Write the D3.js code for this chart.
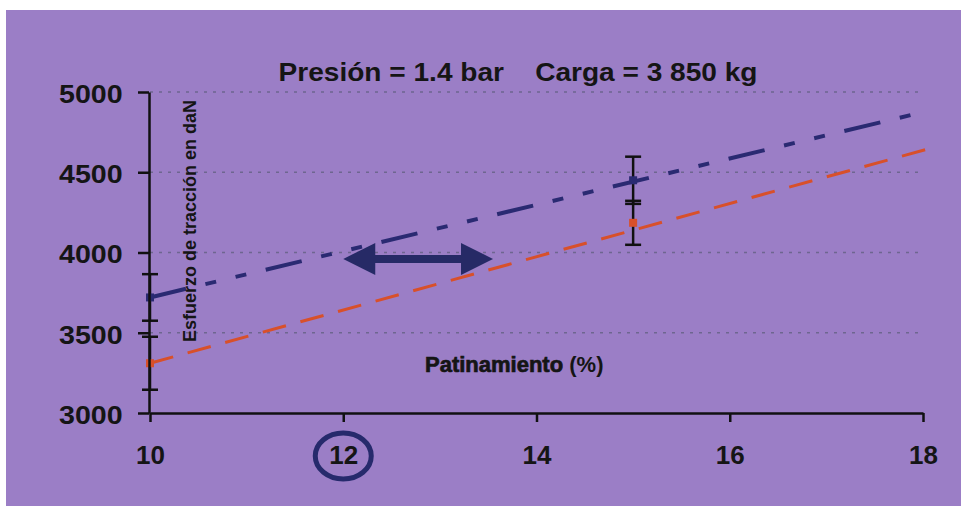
<!DOCTYPE html>
<html>
<head>
<meta charset="utf-8">
<script src="https://cdn.jsdelivr.net/npm/d3@7"></script>
<style>
  body { margin: 0; background: #fff; }
  svg text { font-family: "Liberation Sans", Arial, sans-serif; fill: #151515; }
</style>
</head>
<body>
<svg id="chart" width="961" height="506"></svg>
<script>
// datos
const xTicks = [10, 12, 14, 16, 18];
const yTicks = [3000, 3500, 4000, 4500, 5000];
const gridValues = [3500, 4000, 4500, 5000];

// puntos medidos (patinamiento, esfuerzo) con su error
const bluePointsX = [10, 15];
const bluePointsY = [3720, 4450];
const blueErr = [145, 147];
const redPointsX = [10, 15];
const redPointsY = [3310, 4185];
const redErr = [165, 137];

// rectas de tendencia
const blueTrendX = [10, 17.9];
const blueTrendY = [3720, 4860];
const redTrendX = [10, 18.05];
const redTrendY = [3310, 4645];

// flecha doble y valor marcado
const arrowX = [12, 13.55];
const arrowY = 3960;
const markedTick = 12;

const titleText = "Presión = 1.4 bar    Carga = 3 850 kg";
const yTitle = "Esfuerzo de tracción en daN";

const svg = d3.select("#chart");

// fondo morado
svg.append("rect")
    .attr("x", 6).attr("y", 10)
    .attr("width", 955).attr("height", 496)
    .attr("fill", "#9b7ec6");

const x = d3.scaleLinear().domain([10, 18]).range([150, 923]);
const y = d3.scaleLinear().domain([3000, 5000]).range([413, 92]);

// líneas de cuadrícula punteadas
svg.append("g").selectAll("line")
    .data(gridValues)
    .enter()
    .append("line")
    .attr("x1", x(10)).attr("x2", 920)
    .attr("y1", d => y(d)).attr("y2", d => y(d))
    .attr("stroke", "#6e6690")
    .attr("stroke-width", 1.6)
    .attr("stroke-dasharray", "3,6");

// rectas de tendencia
const line = d3.line().x(d => x(d[0])).y(d => y(d[1]));

svg.append("path")
    .datum(d3.zip(blueTrendX, blueTrendY))
    .attr("d", line)
    .attr("fill", "none")
    .attr("stroke", "#2a2a72")
    .attr("stroke-width", 4)
    .attr("stroke-dasharray", "37,20,11,20,11,20");

svg.append("path")
    .datum(d3.zip(redTrendX, redTrendY))
    .attr("d", line)
    .attr("fill", "none")
    .attr("stroke", "#d8502a")
    .attr("stroke-width", 3)
    .attr("stroke-dasharray", "24,15");

// barras de error
function errorBars(xs, ys, es) {
    const g = svg.append("g").attr("stroke", "#111").attr("stroke-width", 2.5);
    xs.forEach((xv, i) => {
        const cx = x(xv);
        const top = y(ys[i] + es[i]), bot = y(ys[i] - es[i]);
        g.append("line").attr("x1", cx).attr("x2", cx).attr("y1", top).attr("y2", bot);
        g.append("line").attr("x1", cx - 8).attr("x2", cx + 8).attr("y1", top).attr("y2", top);
        g.append("line").attr("x1", cx - 8).attr("x2", cx + 8).attr("y1", bot).attr("y2", bot);
    });
}
errorBars(bluePointsX, bluePointsY, blueErr);
errorBars(redPointsX, redPointsY, redErr);

// marcadores
svg.append("g").selectAll("rect")
    .data(d3.zip(bluePointsX, bluePointsY))
    .enter()
    .append("rect")
    .attr("x", d => x(d[0]) - 4).attr("y", d => y(d[1]) - 4)
    .attr("width", 8).attr("height", 8)
    .attr("fill", "#2a2a72");

svg.append("g").selectAll("rect")
    .data(d3.zip(redPointsX, redPointsY))
    .enter()
    .append("rect")
    .attr("x", d => x(d[0]) - 4).attr("y", d => y(d[1]) - 4)
    .attr("width", 8).attr("height", 8)
    .attr("fill", "#d8502a");

// ejes
const xAxis = svg.append("g")
    .attr("transform", `translate(0,${y(3000)})`)
    .call(d3.axisBottom(x).tickValues(xTicks).tickSize(9).tickPadding(24)
        .tickSizeOuter(0).tickFormat(d3.format("d")));
xAxis.selectAll("text")
    .style("font-size", "26px")
    .style("font-weight", "bold");

const yAxis = svg.append("g")
    .attr("transform", `translate(${x(10) - 1},0)`)
    .call(d3.axisLeft(y).tickValues(yTicks).tickSize(11)
        .tickSizeOuter(0).tickFormat(d3.format("d")));
yAxis.selectAll("text")
    .style("font-size", "26px")
    .style("font-weight", "bold")
    .attr("x", -24)
    .attr("dy", "0.4em")
    .attr("transform", "scale(1.1,1)");

svg.selectAll(".domain, .tick line")
    .attr("stroke", "#111")
    .attr("stroke-width", 2.5);

// elipse alrededor del 12
svg.append("ellipse")
    .attr("cx", x(markedTick)).attr("cy", 456)
    .attr("rx", 28).attr("ry", 23)
    .attr("fill", "none")
    .attr("stroke", "#262a6c")
    .attr("stroke-width", 5);

// flecha doble
const ax0 = x(arrowX[0]), ax1 = x(arrowX[1]), ay = y(arrowY);
const head = 32, hh = 16, sh = 4;
svg.append("path")
    .attr("d", `M${ax0},${ay} L${ax0 + head},${ay - hh} L${ax0 + head},${ay - sh}
                L${ax1 - head},${ay - sh} L${ax1 - head},${ay - hh} L${ax1},${ay}
                L${ax1 - head},${ay + hh} L${ax1 - head},${ay + sh}
                L${ax0 + head},${ay + sh} L${ax0 + head},${ay + hh} Z`)
    .attr("fill", "#262a66");

// títulos
svg.append("text")
    .attr("transform", "translate(518,81) scale(1.08,1)")
    .attr("text-anchor", "middle")
    .attr("xml:space", "preserve")
    .style("white-space", "pre")
    .style("font-size", "26px")
    .style("font-weight", "bold")
    .text(titleText);

svg.append("text")
    .attr("transform", "translate(196,221) rotate(-90)")
    .attr("text-anchor", "middle")
    .style("font-size", "18px")
    .style("font-weight", "bold")
    .text(yTitle);

const xt = svg.append("text")
    .attr("x", 425).attr("y", 372)
    .style("font-size", "22px")
    .style("font-weight", "bold");
xt.append("tspan").text("Patinamiento")
    .style("stroke", "#151515").style("stroke-width", 0.7);
xt.append("tspan").text(" (%)");
</script>
</body>
</html>
